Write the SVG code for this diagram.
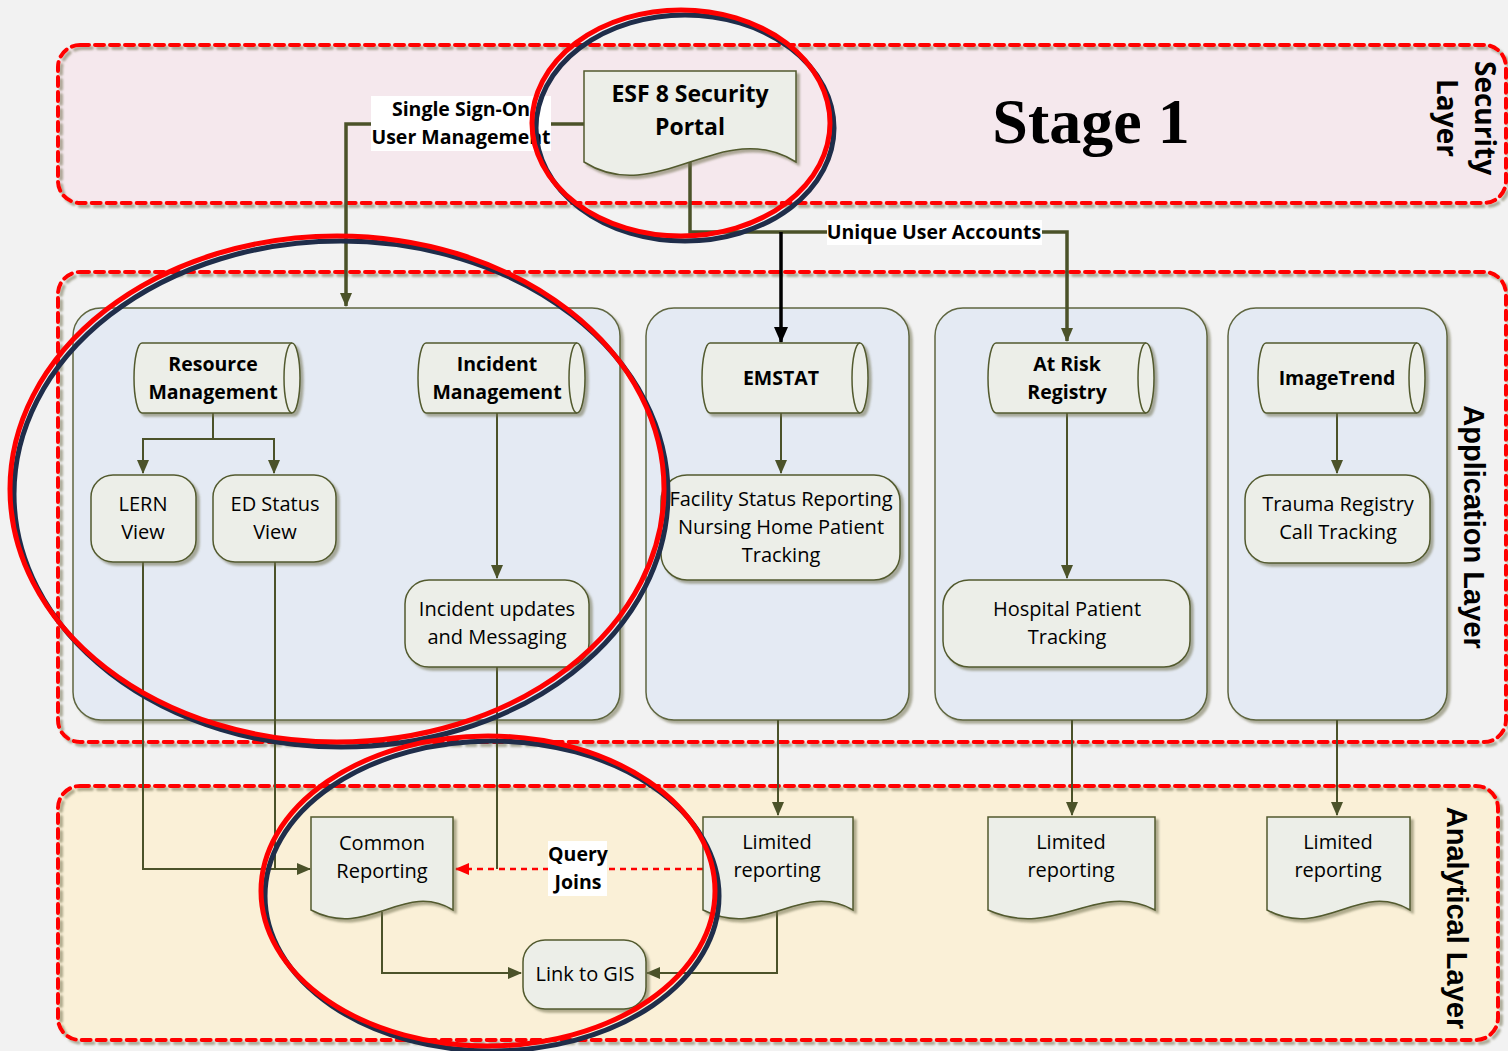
<svg xmlns="http://www.w3.org/2000/svg" width="1508" height="1051" viewBox="0 0 1508 1051">
<defs>
<filter id="sh" x="-10%" y="-10%" width="130%" height="130%"><feDropShadow dx="3" dy="3" stdDeviation="1" flood-color="#6f7050" flood-opacity="0.55"/></filter>
<marker id="ao" markerWidth="14" markerHeight="12" refX="13" refY="6" orient="auto" markerUnits="userSpaceOnUse"><path d="M0,0 L14,6 L0,12 Z" fill="#4b5229"/></marker>
<marker id="ab" markerWidth="16" markerHeight="14" refX="15" refY="7" orient="auto" markerUnits="userSpaceOnUse"><path d="M0,0 L16,7 L0,14 Z" fill="#000"/></marker>
<marker id="ar" markerWidth="14" markerHeight="12" refX="13" refY="6" orient="auto" markerUnits="userSpaceOnUse"><path d="M0,0 L14,6 L0,12 Z" fill="#ff0000"/></marker>
</defs>
<style>
.lay{stroke:#ff0000;stroke-width:4;stroke-dasharray:9 6;fill:none;stroke-linecap:round}
.panel{fill:#e4eaf3;stroke:#5f6640;stroke-width:1.5}
.node{fill:#eceee8;stroke:#525a2e;stroke-width:1.5}
.c{fill:none;stroke:#4b5229;stroke-width:2}
.ct{fill:none;stroke:#4b5229;stroke-width:3.5}
.t{font-family:"Open Sans","Liberation Sans",sans-serif;font-size:20px;fill:#000;text-anchor:middle}
.b{font-weight:bold;font-size:19.5px}
.v{font-family:"Liberation Sans",Arial,sans-serif;font-weight:bold;font-size:29px;fill:#000;text-anchor:middle}
.lbl{fill:#ffffff}
.ell{fill:none;stroke-width:5}
</style>
<rect width="1508" height="1051" fill="#f2f2f2"/>

<g id="security-layer">
<rect x="58" y="45" width="1448" height="158" rx="22" fill="#f5e8ed"/>
<rect class="lay" x="58" y="45" width="1448" height="158" rx="22" filter="url(#sh)"/>
<text class="t b" style="font-size:28px" transform="translate(1468,118) rotate(90)"><tspan x="0" y="-7">Security</tspan><tspan x="0" y="31">Layer</tspan></text>
<text x="1091" y="143" font-family="'Liberation Serif',serif" font-weight="bold" font-size="64" text-anchor="middle">Stage 1</text>
</g>

<g id="application-layer">
<rect x="58" y="272" width="1448" height="470" rx="22" fill="#f2f2f2"/>
<rect class="lay" x="58" y="272" width="1448" height="470" rx="22" filter="url(#sh)"/>
<text class="v" transform="translate(1464,527) rotate(90)" x="0" y="0">Application Layer</text>
</g>

<g id="analytical-layer">
<rect x="58" y="786" width="1440" height="254" rx="22" fill="#faf0d7"/>
<rect class="lay" x="58" y="786" width="1440" height="254" rx="22" filter="url(#sh)"/>
<text class="v" transform="translate(1447,918) rotate(90)" x="0" y="0">Analytical Layer</text>
</g>

<g id="panels">
<rect id="panel-1" class="panel" x="73" y="308" width="547" height="412" rx="28" filter="url(#sh)"/>
<rect id="panel-2" class="panel" x="646" y="308" width="263" height="412" rx="28" filter="url(#sh)"/>
<rect id="panel-3" class="panel" x="935" y="308" width="272" height="412" rx="28" filter="url(#sh)"/>
<rect id="panel-4" class="panel" x="1228" y="308" width="219" height="412" rx="28" filter="url(#sh)"/>
</g>

<g id="connectors">
<path class="ct" d="M584,124 H346 V306" marker-end="url(#ao)"/>
<path class="ct" d="M690,162 V232 H1067 V341" marker-end="url(#ao)"/>
<path d="M781,232 V342" fill="none" stroke="#000" stroke-width="3.5" marker-end="url(#ab)"/>
<path class="c" d="M213,413 V439 H143 V473" marker-end="url(#ao)"/>
<path class="c" d="M213,439 H274 V473" marker-end="url(#ao)"/>
<path class="c" d="M497,413 V578" marker-end="url(#ao)"/>
<path class="c" d="M781,413 V473" marker-end="url(#ao)"/>
<path class="c" d="M1067,413 V578" marker-end="url(#ao)"/>
<path class="c" d="M1337,413 V473" marker-end="url(#ao)"/>
<path class="c" d="M143,562 V869 H310" marker-end="url(#ao)"/>
<path class="c" d="M275,562 V869"/>
<path class="c" d="M497,667 V869"/>
<path d="M703,869 H456" fill="none" stroke="#ff0000" stroke-width="2.5" stroke-dasharray="6 5" marker-end="url(#ar)"/>
<path class="c" d="M778,720 V815" marker-end="url(#ao)"/>
<path class="c" d="M1072,720 V815" marker-end="url(#ao)"/>
<path class="c" d="M1337,720 V815" marker-end="url(#ao)"/>
<path class="c" d="M382,912 V973 H521" marker-end="url(#ao)"/>
<path class="c" d="M777,908 V973 H647" marker-end="url(#ao)"/>
</g>

<g id="esf8-portal">
<path class="node" filter="url(#sh)" d="M584,71 H796 V162 C723,116 657,208 584,162 Z"/>
<text class="t b" style="font-size:23px"><tspan x="690" y="102">ESF 8 Security</tspan><tspan x="690" y="135">Portal</tspan></text>
</g>

<g id="resource-management">
<path class="node" filter="url(#sh)" d="M142,343 H292 A8,35 0 0 1 292,413 H142 A8,35 0 0 1 142,343 Z"/>
<path class="node" d="M292,343 A8,35 0 0 0 292,413" fill="none"/>
<text class="t b"><tspan x="213" y="371">Resource</tspan><tspan x="213" y="399">Management</tspan></text>
</g>
<g id="incident-management">
<path class="node" filter="url(#sh)" d="M426,343 H577 A8,35 0 0 1 577,413 H426 A8,35 0 0 1 426,343 Z"/>
<path class="node" d="M577,343 A8,35 0 0 0 577,413" fill="none"/>
<text class="t b"><tspan x="497" y="371">Incident</tspan><tspan x="497" y="399">Management</tspan></text>
</g>
<g id="emstat">
<path class="node" filter="url(#sh)" d="M710,343 H860 A8,35 0 0 1 860,413 H710 A8,35 0 0 1 710,343 Z"/>
<path class="node" d="M860,343 A8,35 0 0 0 860,413" fill="none"/>
<text class="t b" x="781" y="385">EMSTAT</text>
</g>
<g id="at-risk-registry">
<path class="node" filter="url(#sh)" d="M996,343 H1146 A8,35 0 0 1 1146,413 H996 A8,35 0 0 1 996,343 Z"/>
<path class="node" d="M1146,343 A8,35 0 0 0 1146,413" fill="none"/>
<text class="t b"><tspan x="1067" y="371">At Risk</tspan><tspan x="1067" y="399">Registry</tspan></text>
</g>
<g id="imagetrend">
<path class="node" filter="url(#sh)" d="M1266,343 H1417 A8,35 0 0 1 1417,413 H1266 A8,35 0 0 1 1266,343 Z"/>
<path class="node" d="M1417,343 A8,35 0 0 0 1417,413" fill="none"/>
<text class="t b" x="1337" y="385">ImageTrend</text>
</g>

<g id="lern-view">
<rect class="node" filter="url(#sh)" x="91" y="475" width="105" height="87" rx="22"/>
<text class="t"><tspan x="143" y="511">LERN</tspan><tspan x="143" y="539">View</tspan></text>
</g>
<g id="ed-status-view">
<rect class="node" filter="url(#sh)" x="213" y="475" width="123" height="87" rx="22"/>
<text class="t"><tspan x="275" y="511">ED Status</tspan><tspan x="275" y="539">View</tspan></text>
</g>
<g id="incident-updates">
<rect class="node" filter="url(#sh)" x="405" y="580" width="184" height="87" rx="24"/>
<text class="t"><tspan x="497" y="616">Incident updates</tspan><tspan x="497" y="644">and Messaging</tspan></text>
</g>
<g id="facility-status">
<rect class="node" filter="url(#sh)" x="661" y="475" width="239" height="105" rx="26"/>
<text class="t"><tspan x="781" y="506">Facility Status Reporting</tspan><tspan x="781" y="534">Nursing Home Patient</tspan><tspan x="781" y="562">Tracking</tspan></text>
</g>
<g id="hospital-patient-tracking">
<rect class="node" filter="url(#sh)" x="943" y="580" width="247" height="87" rx="26"/>
<text class="t"><tspan x="1067" y="616">Hospital Patient</tspan><tspan x="1067" y="644">Tracking</tspan></text>
</g>
<g id="trauma-registry">
<rect class="node" filter="url(#sh)" x="1245" y="475" width="185" height="88" rx="24"/>
<text class="t"><tspan x="1338" y="511">Trauma Registry</tspan><tspan x="1338" y="539">Call Tracking</tspan></text>
</g>

<g id="common-reporting">
<path class="node" filter="url(#sh)" d="M311,817 H453 V910 C404,880 368,940 311,910 Z"/>
<text class="t"><tspan x="382" y="850">Common</tspan><tspan x="382" y="878">Reporting</tspan></text>
</g>
<g id="limited-reporting-1">
<path class="node" filter="url(#sh)" d="M703,817 H853 V910 C801,880 763,940 703,910 Z"/>
<text class="t"><tspan x="777" y="849">Limited</tspan><tspan x="777" y="877">reporting</tspan></text>
</g>
<g id="limited-reporting-2">
<path class="node" filter="url(#sh)" d="M988,817 H1155 V910 C1097,880 1055,940 988,910 Z"/>
<text class="t"><tspan x="1071" y="849">Limited</tspan><tspan x="1071" y="877">reporting</tspan></text>
</g>
<g id="limited-reporting-3">
<path class="node" filter="url(#sh)" d="M1267,817 H1410 V910 C1360,880 1324,940 1267,910 Z"/>
<text class="t"><tspan x="1338" y="849">Limited</tspan><tspan x="1338" y="877">reporting</tspan></text>
</g>
<g id="link-to-gis">
<rect class="node" filter="url(#sh)" x="523" y="940" width="123" height="69" rx="22"/>
<text class="t" x="585" y="981">Link to GIS</text>
</g>

<g id="connector-labels">
<rect class="lbl" x="371" y="96" width="180" height="55"/>
<text class="t b"><tspan x="461" y="116">Single Sign-On</tspan><tspan x="461" y="144">User Management</tspan></text>
<rect class="lbl" x="827" y="220" width="215" height="25"/>
<text class="t b" x="934" y="239">Unique User Accounts</text>
<rect class="lbl" x="548" y="841" width="59" height="55"/>
<text class="t b"><tspan x="578" y="861">Query</tspan><tspan x="578" y="889">Joins</tspan></text>
</g>

<g id="highlights">
<ellipse class="ell" stroke="#1f2d4a" cx="685" cy="128" rx="149" ry="113"/>
<ellipse class="ell" stroke="#ff0000" cx="681" cy="123" rx="149" ry="113"/>
<ellipse class="ell" stroke="#1f2d4a" cx="341" cy="494" rx="327" ry="253"/>
<ellipse class="ell" stroke="#ff0000" cx="337" cy="489" rx="327" ry="253"/>
<ellipse class="ell" stroke="#1f2d4a" cx="492" cy="896" rx="227" ry="155"/>
<ellipse class="ell" stroke="#ff0000" cx="488" cy="891" rx="227" ry="155"/>
</g>
</svg>
